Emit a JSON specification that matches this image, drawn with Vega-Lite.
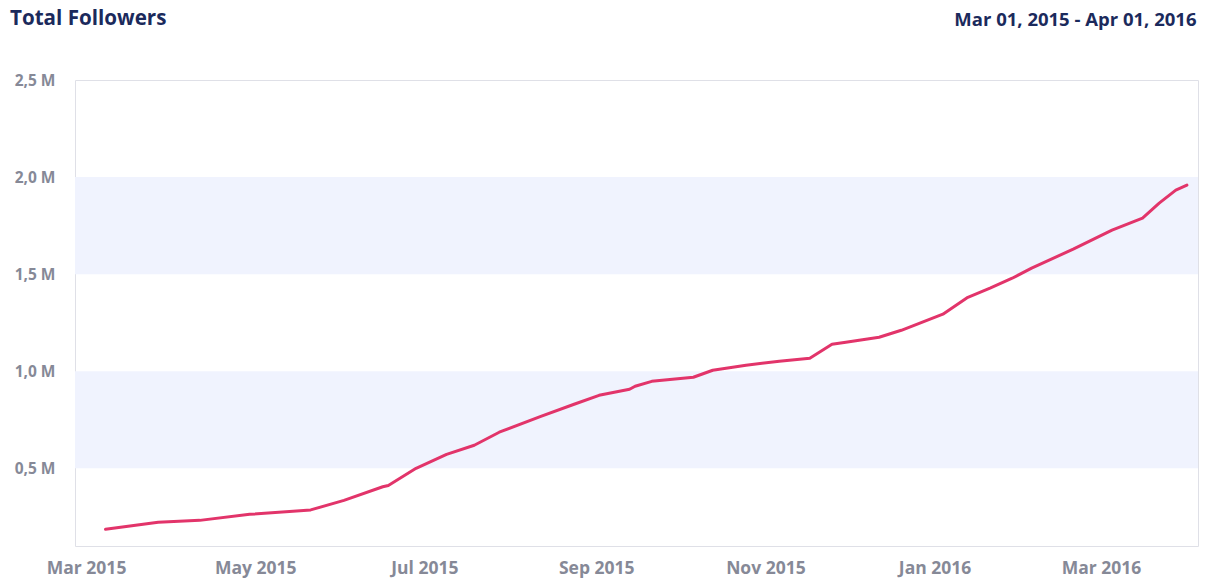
{
  "$schema": "https://vega.github.io/schema/vega-lite/v6.json",
  "width": 1123,
  "height": 466,
  "autosize": {"type": "none"},
  "padding": {"left": 75, "top": 80, "right": 7, "bottom": 32},
  "background": "#ffffff",
  "config": {
    "font": "Open Sans",
    "view": {"stroke": "#dfe0e7", "strokeWidth": 1}
  },
  "title": {
    "text": "Total Followers",
    "anchor": "start",
    "frame": "group",
    "dx": -65,
    "offset": -36,
    "baseline": "alphabetic",
    "fontSize": 20.6,
    "fontWeight": "bold",
    "color": "#1b2a5c",
    "font": "Open Sans"
  },
  "datasets": {
    "bands": [
      {"lo": 500000, "hi": 1000000},
      {"lo": 1500000, "hi": 2000000}
    ],
    "series": [
      {"date": "2015-03-08", "followers": 186000},
      {"date": "2015-03-27", "followers": 222000},
      {"date": "2015-04-11", "followers": 232000},
      {"date": "2015-04-29", "followers": 263000},
      {"date": "2015-05-21", "followers": 286000},
      {"date": "2015-06-02", "followers": 335000},
      {"date": "2015-06-16", "followers": 405000},
      {"date": "2015-06-18", "followers": 412000},
      {"date": "2015-06-28", "followers": 500000},
      {"date": "2015-07-09", "followers": 572000},
      {"date": "2015-07-19", "followers": 619000},
      {"date": "2015-07-28", "followers": 686000},
      {"date": "2015-08-12", "followers": 768000},
      {"date": "2015-08-24", "followers": 830000},
      {"date": "2015-09-02", "followers": 876000},
      {"date": "2015-09-13", "followers": 907000},
      {"date": "2015-09-15", "followers": 923000},
      {"date": "2015-09-21", "followers": 948000},
      {"date": "2015-10-06", "followers": 969000},
      {"date": "2015-10-13", "followers": 1005000},
      {"date": "2015-10-25", "followers": 1031000},
      {"date": "2015-11-06", "followers": 1052000},
      {"date": "2015-11-17", "followers": 1067000},
      {"date": "2015-11-25", "followers": 1139000},
      {"date": "2015-11-30", "followers": 1149000},
      {"date": "2015-12-12", "followers": 1175000},
      {"date": "2015-12-20", "followers": 1211000},
      {"date": "2016-01-04", "followers": 1294000},
      {"date": "2016-01-13", "followers": 1381000},
      {"date": "2016-01-21", "followers": 1428000},
      {"date": "2016-01-29", "followers": 1479000},
      {"date": "2016-02-05", "followers": 1531000},
      {"date": "2016-02-20", "followers": 1629000},
      {"date": "2016-03-05", "followers": 1727000},
      {"date": "2016-03-16", "followers": 1789000},
      {"date": "2016-03-22", "followers": 1866000},
      {"date": "2016-03-28", "followers": 1933000},
      {"date": "2016-04-01", "followers": 1959000}
    ]
  },
  "layer": [
    {
      "data": {"name": "bands"},
      "mark": {"type": "rect", "color": "#f0f3fe"},
      "encoding": {
        "y": {"field": "lo", "type": "quantitative", "title": "Mar 01, 2015 - Apr 01, 2016"},
        "y2": {"field": "hi"}
      }
    },
    {
      "data": {"name": "series"},
      "mark": {"type": "line", "color": "#e2346a", "strokeWidth": 3, "strokeCap": "round", "strokeJoin": "round"},
      "encoding": {
        "x": {
          "field": "date",
          "type": "temporal",
          "scale": {
            "type": "utc",
            "domain": [
              {"year": 2015, "month": 2, "date": 25, "utc": true},
              {"year": 2016, "month": 4, "date": 5, "utc": true}
            ]
          },
          "axis": {
            "title": null,
            "values": [
              {"year": 2015, "month": 3, "date": 1, "utc": true},
              {"year": 2015, "month": 5, "date": 1, "utc": true},
              {"year": 2015, "month": 7, "date": 1, "utc": true},
              {"year": 2015, "month": 9, "date": 1, "utc": true},
              {"year": 2015, "month": 11, "date": 1, "utc": true},
              {"year": 2016, "month": 1, "date": 1, "utc": true},
              {"year": 2016, "month": 3, "date": 1, "utc": true}
            ],
            "format": "%b %Y",
            "grid": false,
            "ticks": false,
            "domain": false,
            "labelPadding": 13,
            "labelFontSize": 17.5,
            "labelFontWeight": "bold",
            "labelColor": "#868997",
            "labelFont": "Open Sans"
          }
        },
        "y": {
          "field": "followers",
          "type": "quantitative",
          "title": "Mar 01, 2015 - Apr 01, 2016",
          "scale": {"domain": [100000, 2500000], "nice": false, "zero": false},
          "axis": {
            "values": [500000, 1000000, 1500000, 2000000, 2500000],
            "labelExpr": "replace(format(datum.value / 1000000, '.1f'), '.', ',') + ' M'",
            "grid": false,
            "ticks": false,
            "domain": false,
            "labelPadding": 20,
            "labelFontSize": 15.5,
            "labelFontWeight": "bold",
            "labelColor": "#868997",
            "labelFont": "Open Sans",
            "titleAngle": 0,
            "titleX": 1121,
            "titleY": -55,
            "titleAlign": "right",
            "titleBaseline": "alphabetic",
            "titleFontSize": 18.5,
            "titleFontWeight": "bold",
            "titleColor": "#1b2a5c",
            "titleFont": "Open Sans"
          }
        }
      }
    }
  ]
}
